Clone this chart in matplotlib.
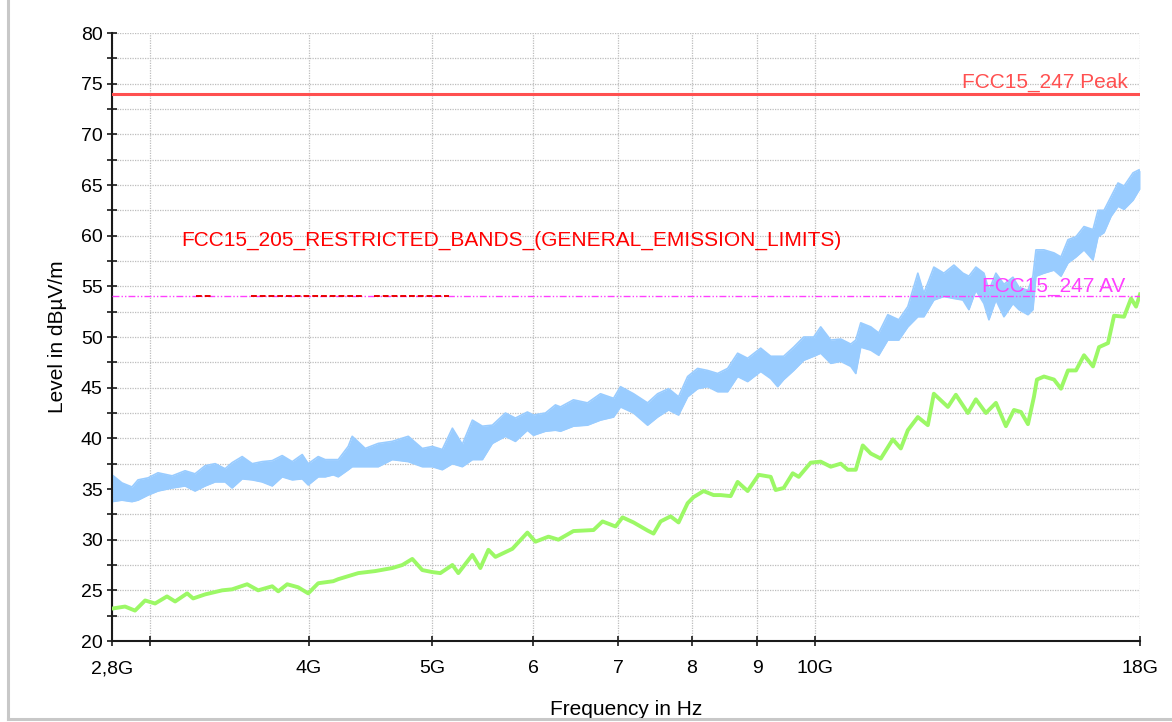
import matplotlib
matplotlib.use("Agg")
import matplotlib.pyplot as plt
from matplotlib.ticker import FixedLocator, FixedFormatter, MultipleLocator, NullLocator
from matplotlib.lines import Line2D
from matplotlib.patches import Rectangle
import matplotlib.transforms as mtransforms

plt.rcParams['font.family'] = ['Liberation Sans', 'DejaVu Sans']

# ---------------- data ----------------
# Peak trace (light blue) : frequency in GHz, lower / upper envelope in dBuV/m
peak_freq = [2.800, 2.851, 2.903, 2.935, 2.989, 3.043, 3.122, 3.196, 3.254, 3.314,
             3.375, 3.436, 3.480, 3.544, 3.609, 3.674, 3.742, 3.810, 3.880, 3.951,
             3.994, 4.067, 4.119, 4.179, 4.217, 4.294, 4.325, 4.428, 4.534, 4.650,
             4.787, 4.910, 5.000, 5.091, 5.185, 5.279, 5.376, 5.474, 5.574, 5.707,
             5.811, 5.939, 6.004, 6.136, 6.248, 6.305, 6.455, 6.621, 6.779, 6.941,
             7.029, 7.197, 7.382, 7.517, 7.668, 7.808, 7.937, 8.082, 8.229, 8.380,
             8.533, 8.689, 8.848, 9.059, 9.225, 9.342, 9.444, 9.617, 9.793, 9.972,
             10.099, 10.284, 10.472, 10.664, 10.761, 10.858, 11.057, 11.218, 11.403, 11.632,
             11.824, 12.040, 12.172, 12.394, 12.621, 12.852, 13.063, 13.206, 13.374, 13.570,
             13.693, 13.868, 14.070, 14.302, 14.458, 14.696, 14.829, 14.910, 15.128, 15.405,
             15.601, 15.800, 16.031, 16.265, 16.532, 16.683, 16.865, 17.080, 17.298, 17.488,
             17.775, 17.969, 18.000]
peak_lo = [33.75, 33.9, 33.75, 33.9, 34.4, 34.8, 35.1, 35.3, 34.8, 35.3,
           35.7, 35.7, 35.1, 36.0, 35.9, 35.7, 35.3, 36.2, 35.9, 36.0,
           35.4, 36.2, 36.2, 36.4, 36.2, 36.9, 37.2, 37.2, 37.2, 37.9,
           37.7, 37.2, 37.2, 36.9, 37.5, 37.2, 37.9, 37.9, 39.5, 40.2,
           39.7, 40.8, 40.3, 40.7, 40.8, 40.7, 41.2, 41.3, 41.8, 42.1,
           43.1, 42.5, 41.3, 42.1, 42.8, 42.3, 44.1, 44.9, 45.1, 44.6,
           44.6, 46.1, 45.6, 46.6, 45.9, 45.1, 45.8, 46.7, 47.7, 48.1,
           48.4, 47.4, 47.6, 47.1, 46.4, 49.0, 48.7, 48.2, 49.7, 49.7,
           51.0, 52.0, 52.0, 53.65, 54.0, 53.8, 53.65, 52.7, 54.6, 53.3,
           51.7, 53.65, 52.0, 53.3, 52.7, 52.2, 52.7, 56.0, 56.3, 56.6,
           56.0, 57.3, 57.9, 58.6, 57.6, 59.9, 60.3, 61.9, 62.9, 62.6,
           63.5, 64.5, 64.6]
peak_hi = [36.4, 35.6, 35.2, 35.9, 36.1, 36.6, 36.3, 36.8, 36.5, 37.3,
           37.5, 37.0, 37.6, 38.2, 37.5, 37.7, 37.8, 38.3, 37.7, 38.4,
           37.5, 38.2, 37.9, 37.9, 37.9, 39.2, 40.2, 39.0, 39.5, 39.7,
           40.2, 39.0, 39.2, 38.9, 41.0, 39.4, 41.8, 41.2, 41.3, 42.5,
           42.0, 42.6, 42.3, 42.5, 43.3, 43.1, 43.8, 43.5, 44.4, 43.95,
           45.1, 44.4, 43.5, 44.4, 44.9, 44.1, 46.1, 46.9, 46.7, 46.4,
           46.9, 48.4, 47.9, 48.9, 48.1, 48.1, 48.1, 49.0, 50.0, 50.0,
           51.0, 49.7, 49.8, 49.3, 49.7, 51.4, 51.0, 50.4, 52.2, 51.7,
           53.0, 56.3, 54.3, 56.9, 56.3, 57.1, 56.3, 56.0, 56.9, 56.3,
           54.6, 56.3, 55.2, 55.9, 54.9, 54.6, 56.0, 58.6, 58.6, 58.3,
           57.9, 59.6, 59.9, 60.9, 60.6, 62.5, 62.5, 63.85, 65.2, 64.9,
           66.2, 66.5, 66.4]

# Average trace (light green)
avg_freq = [2.800, 2.867, 2.919, 2.973, 3.027, 3.093, 3.139, 3.208, 3.243, 3.314,
            3.418, 3.480, 3.576, 3.648, 3.742, 3.783, 3.845, 3.922, 3.994, 4.067,
            4.179, 4.217, 4.373, 4.509, 4.650, 4.736, 4.822, 4.910, 5.000, 5.073,
            5.185, 5.241, 5.376, 5.454, 5.534, 5.605, 5.780, 5.939, 6.026, 6.170,
            6.282, 6.455, 6.694, 6.804, 6.966, 7.055, 7.197, 7.382, 7.462, 7.558,
            7.696, 7.808, 7.937, 8.023, 8.170, 8.319, 8.426, 8.580, 8.689, 8.848,
            9.026, 9.225, 9.308, 9.444, 9.600, 9.705, 9.918, 10.099, 10.284, 10.472,
            10.606, 10.761, 10.898, 11.057, 11.259, 11.507, 11.675, 11.824, 12.040, 12.260,
            12.394, 12.713, 12.898, 13.182, 13.374, 13.619, 13.868, 14.121, 14.328, 14.511,
            14.696, 14.856, 14.937, 15.128, 15.405, 15.601, 15.800, 16.031, 16.265, 16.532,
            16.713, 16.988, 17.174, 17.488, 17.711, 17.872, 18.000]
avg_level = [23.2, 23.4, 23.0, 24.0, 23.7, 24.4, 23.9, 24.7, 24.2, 24.6,
             25.0, 25.1, 25.6, 25.0, 25.4, 24.9, 25.6, 25.3, 24.7, 25.7,
             25.9, 26.1, 26.7, 26.9, 27.2, 27.5, 28.1, 27.0, 26.8, 26.7,
             27.5, 26.7, 28.5, 27.2, 29.0, 28.3, 29.1, 30.7, 29.8, 30.3,
             30.0, 30.85, 30.95, 31.8, 31.3, 32.2, 31.7, 30.9, 30.6, 31.8,
             32.3, 31.7, 33.6, 34.2, 34.8, 34.4, 34.4, 34.3, 35.7, 34.8,
             36.4, 36.2, 34.9, 35.1, 36.55, 36.2, 37.6, 37.7, 37.2, 37.5,
             36.9, 36.9, 39.3, 38.5, 38.0, 39.9, 39.0, 40.8, 42.1, 41.3,
             44.4, 43.1, 44.3, 42.5, 43.85, 42.5, 43.5, 41.2, 42.8, 42.6,
             41.4, 44.1, 45.8, 46.1, 45.8, 44.9, 46.7, 46.7, 48.2, 47.1,
             49.0, 49.4, 52.1, 52.0, 53.8, 53.0, 54.2]

# Limit lines
peak_limit = 74.0
av_limit = 54.0
restricted_bands = [(3.260, 3.358), (3.600, 4.400), (4.500, 5.150)]
restricted_level = 54.0

x_ticks = [2.8, 3.0, 4.0, 5.0, 6.0, 7.0, 8.0, 9.0, 10.0, 18.0]
x_tick_labels = ['2,8G', '', '4G', '5G', '6', '7', '8', '9', '10G', '18G']

# ---------------- figure ----------------
fig = plt.figure(figsize=(11.72, 7.22), dpi=100)
ax = fig.add_axes([112 / 1172, 1 - 641 / 722, 1028 / 1172, 608 / 722])

ax.set_xscale('log')
ax.set_xlim(2.8, 18.0)
ax.set_ylim(20, 80)

# grid
ax.xaxis.set_major_locator(FixedLocator(x_ticks))
ax.xaxis.set_major_formatter(FixedFormatter(x_tick_labels))
ax.xaxis.set_minor_locator(NullLocator())
ax.yaxis.set_major_locator(MultipleLocator(5))
ax.yaxis.set_minor_locator(MultipleLocator(2.5))
grid_kw = dict(color='#bdbdbd', linestyle=(0, (1, 1)), linewidth=0.9)
ax.grid(True, axis='x', which='major', **grid_kw)
ax.grid(True, axis='y', which='both', **grid_kw)
ax.set_axisbelow(True)

for s in ['top', 'right']:
    ax.spines[s].set_visible(False)
for s in ['left', 'bottom']:
    ax.spines[s].set_linewidth(1.5)
    ax.spines[s].set_color('#1a1a1a')

ax.tick_params(axis='both', which='both', direction='inout', length=7.5, width=1.2,
               color='#1a1a1a', labelsize=14)
ax.tick_params(axis='y', which='major', pad=3)
ax.tick_params(axis='x', which='major', pad=10)

# traces
ax.fill_between(peak_freq, peak_lo, peak_hi, color='#99CCFF', linewidth=0, zorder=2)
ax.plot(peak_freq, peak_lo, color='#99CCFF', linewidth=1.2, zorder=2)
ax.plot(peak_freq, peak_hi, color='#99CCFF', linewidth=1.2, zorder=2)
ax.plot(avg_freq, avg_level, color='#9CF866', linewidth=2.8, zorder=3)

# limit lines
ax.axhline(peak_limit, color='#FF5050', linewidth=2.2, zorder=4)
ax.axhline(av_limit, color='#FF40FF', linewidth=1.0,
           dashes=(5, 1.5, 1, 1.5, 1, 1.5), zorder=5)
for f0, f1 in restricted_bands:
    ax.plot([f0, f1], [restricted_level, restricted_level], color='#E80000',
            linewidth=1.4, dashes=(3, 1.5), zorder=6)

trans = mtransforms.blended_transform_factory(ax.transAxes, ax.transData)
ax.text(0.988, 74.6, 'FCC15_247 Peak', color='#FF5050', fontsize=15,
        ha='right', va='baseline', transform=trans, zorder=7)
ax.text(0.067, 59.0, 'FCC15_205_RESTRICTED_BANDS_(GENERAL_EMISSION_LIMITS)',
        color='#FF0000', fontsize=15, ha='left', va='baseline', transform=trans, zorder=7)
ax.text(0.986, 54.45, 'FCC15_247 AV', color='#FF40FF', fontsize=15,
        ha='right', va='baseline', transform=trans, zorder=7)

ax.set_ylabel('Level in dBµV/m', fontsize=15)
ax.yaxis.set_label_coords(-0.044, 0.5)
ax.set_xlabel('Frequency in Hz', fontsize=15, va='top')
ax.xaxis.set_label_coords(0.5, -0.097)

# outer frame (left and bottom visible)
fig.add_artist(Rectangle((0, 0), 1, 2.5 / 722, transform=fig.transFigure,
                         facecolor='white', edgecolor='none', zorder=10))
fig.add_artist(Line2D([7.5 / 1172, 7.5 / 1172], [3.5 / 722, 1], transform=fig.transFigure,
                      color='#C8C8C8', linewidth=2.2, zorder=11))
fig.add_artist(Line2D([7.5 / 1172, 1], [3.5 / 722, 3.5 / 722], transform=fig.transFigure,
                      color='#C8C8C8', linewidth=2.2, zorder=11))

fig.savefig('out.png', dpi=100)
